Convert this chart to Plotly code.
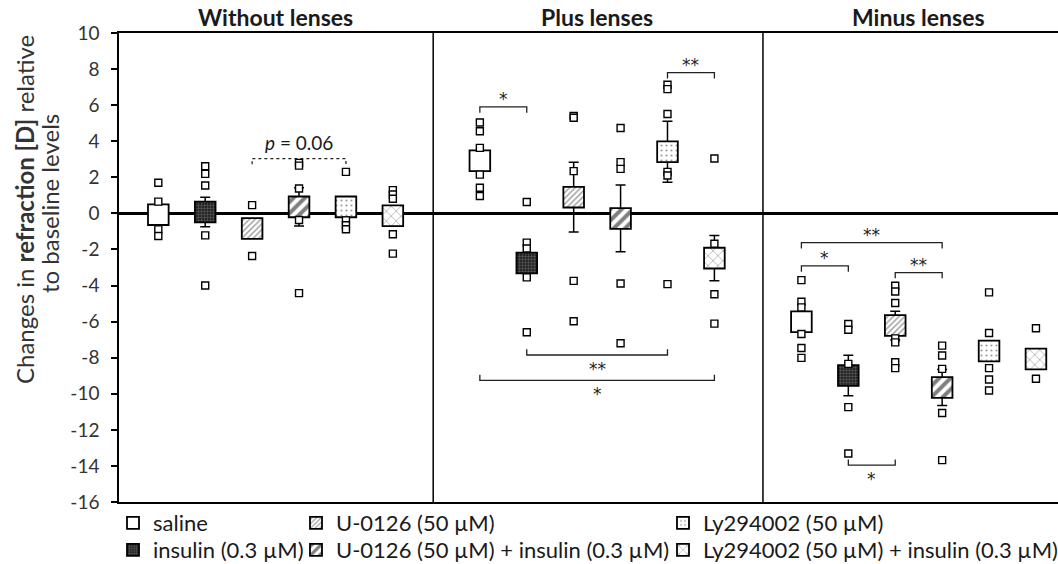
import plotly.graph_objects as go

# ---------------- data ----------------
panels = ["Without lenses", "Plus lenses", "Minus lenses"]
treatments = [
    "saline",
    "insulin (0.3 µM)",
    "U-0126 (50 µM)",
    "U-0126 (50 µM) + insulin (0.3 µM)",
    "Ly294002 (50 µM)",
    "Ly294002 (50 µM) + insulin (0.3 µM)",
]

mean_without = [-0.07, 0.08, -0.84, 0.36, 0.36, -0.13]
sem_without = [0.45, 0.82, 0.40, 1.06, 0.40, 0.45]
mean_plus = [2.92, -2.75, 0.90, -0.28, 3.42, -2.48]
sem_plus = [0.50, 0.50, 1.93, 1.85, 1.69, 1.26]
mean_minus = [-6.01, -8.99, -6.22, -9.65, -7.63, -8.07]
sem_minus = [0.50, 1.12, 0.80, 1.00, 0.50, 0.50]

pts_without = [
    [1.70, 0.65, -0.88, -1.25],
    [2.61, 2.19, 1.55, -1.22, -4.00],
    [0.46, -2.36],
    [2.80, 2.65, 1.38, -0.37, -4.42],
    [2.30, -0.39, -0.66, -0.88],
    [1.29, 1.05, 0.81, -1.16, -2.23],
]
pts_plus = [
    [5.04, 4.55, 3.63, 2.15, 1.42, 0.96],
    [0.63, -1.62, -1.95, -3.55, -6.59],
    [5.40, 5.30, 2.34, -3.74, -5.98],
    [4.73, 2.84, 2.47, -3.89, -7.20],
    [7.13, 6.89, 5.51, 2.30, 2.10, -3.92],
    [3.04, -1.68, -4.48, -6.11],
]
pts_minus = [
    [-3.70, -4.90, -5.21, -6.69, -7.46, -8.01],
    [-6.13, -6.45, -8.34, -10.74, -13.31],
    [-4.01, -4.33, -4.97, -6.93, -7.15, -8.25, -8.58],
    [-7.33, -7.88, -8.62, -11.07, -13.68],
    [-4.38, -6.63, -8.58, -9.21, -9.82],
    [-6.37, -9.17],
]

# significance brackets: (panel, from treatment, to treatment, level, tick direction, label, dashed)
brackets = [
    (0, 2, 4, 3.04, -1, "<i>p</i> = 0.06", True),
    (1, 0, 1, 5.90, -1, "*", False),
    (1, 4, 5, 7.80, -1, "**", False),
    (1, 1, 4, -7.85, 1, "**", False),
    (1, 0, 5, -9.26, 1, "*", False),
    (2, 0, 3, -1.62, -1, "**", False),
    (2, 0, 1, -2.91, -1, "*", False),
    (2, 2, 3, -3.28, -1, "**", False),
    (2, 1, 2, -13.96, 1, "*", False),
]

y_ticks = list(range(-16, 11, 2))
y_tick_labels = [str(v) for v in y_ticks]

# ---------------- styling constants ----------------
GROUP_GAP = 6.855
BOX_W = 0.44
BOX_H = 1.15
TICK = 0.32
DIVIDERS = [5.86, 12.89]
FONT = "Lato, 'Open Sans', sans-serif"
STAR_FONT = "DejaVu Sans"
TXT = "#1a1a1a"

means = [mean_without, mean_plus, mean_minus]
sems = [sem_without, sem_plus, sem_minus]
pts = [pts_without, pts_plus, pts_minus]


def xpos(g, i):
    return g * GROUP_GAP + i


styles = [
    dict(color="white"),
    dict(color="#262626", pattern=dict(shape="+", fgcolor="#9a9a9a", size=3, solidity=0.3)),
    dict(color="white", pattern=dict(shape="/", fgcolor="#333333", size=4, solidity=0.35)),
    dict(color="white", pattern=dict(shape="/", fgcolor="#000000", size=8, solidity=0.5)),
    dict(color="white", pattern=dict(shape=".", fgcolor="#333333", size=5, solidity=0.15)),
    dict(color="white", pattern=dict(shape="x", fgcolor="#222222", size=7, solidity=0.16)),
]
legend_ids = ["legend", "legend2", "legend3", "legend4", "legend5", "legend6"]
# legend item start (px) and row centre (px)
legend_cols = [113, 296, 663]
legend_rows = [523, 550]
PLOT_L, PLOT_R, PLOT_T, PLOT_B = 119, 1058, 33, 502

fig = go.Figure()

# error bars (drawn first so the boxes cover them)
ex, eb, es = [], [], []
for g in range(3):
    for i in range(6):
        ex.append(xpos(g, i))
        eb.append(means[g][i])
        es.append(sems[g][i])
fig.add_trace(go.Bar(
    x=ex, y=[0] * len(ex), base=eb, width=BOX_W,
    marker=dict(color="rgba(0,0,0,0)", line=dict(width=0)),
    error_y=dict(type="data", array=es, visible=True, color="black", thickness=1.5, width=5),
    showlegend=False, hoverinfo="skip",
))

# mean boxes
for t in range(6):
    xs = [xpos(g, t) for g in range(3)]
    bases = [means[g][t] - BOX_H / 2 for g in range(3)]
    fig.add_trace(go.Bar(
        x=xs, y=[BOX_H] * 3, base=bases, width=BOX_W,
        marker=dict(**styles[t], line=dict(color="black", width=1.8)),
        name=treatments[t], legend=legend_ids[t],
    ))

# individual points
px_, py_ = [], []
for g in range(3):
    for t in range(6):
        for v in pts[g][t]:
            px_.append(xpos(g, t))
            py_.append(v)
fig.add_trace(go.Scatter(
    x=px_, y=py_, mode="markers",
    marker=dict(symbol="square", size=7, color="white", line=dict(color="black", width=1.4)),
    showlegend=False, hoverinfo="skip",
))

# brackets
for (g, a, b, lvl, d, lab, dashed) in brackets:
    x1, x2 = xpos(g, a), xpos(g, b)
    fig.add_shape(
        type="path",
        path=f"M {x1},{lvl + d * TICK} L {x1},{lvl} L {x2},{lvl} L {x2},{lvl + d * TICK}",
        line=dict(color="#222", width=1.3, dash="dot" if dashed else "solid"),
    )
    if lab.startswith("<i>"):
        fig.add_annotation(
            x=(x1 + x2) / 2, y=lvl, text=lab, showarrow=False,
            yanchor="middle", xanchor="center", yshift=16,
            font=dict(size=19, family=FONT, color=TXT),
        )
    else:
        fig.add_annotation(
            x=(x1 + x2) / 2, y=lvl, text=lab, showarrow=False,
            yanchor="middle", xanchor="center", yshift=8 if d < 0 else -14,
            font=dict(size=17, family=STAR_FONT, color="#222"),
        )

# panel dividers
for xd in DIVIDERS:
    fig.add_shape(type="line", x0=xd, x1=xd, xref="x", y0=0, y1=1, yref="paper",
                  line=dict(color="black", width=1.5))

# panel titles
for g, name in enumerate(panels):
    fig.add_annotation(x=xpos(g, 2.5), y=1, yref="paper", text=f"<b>{name}</b>",
                       showarrow=False, yanchor="middle", yshift=16,
                       font=dict(size=23, family=FONT, color=TXT))

# y-axis title (two lines)
pw = PLOT_R - PLOT_L
ph = PLOT_B - PLOT_T
fig.add_annotation(x=(25 - PLOT_L) / pw, y=(PLOT_B - 210) / ph, xref="paper", yref="paper",
                   text="Changes in <b>refraction [D]</b> relative", textangle=-90,
                   showarrow=False, xanchor="center", yanchor="middle",
                   font=dict(size=24, family=FONT, color="#333"))
fig.add_annotation(x=(49 - PLOT_L) / pw, y=(PLOT_B - 204) / ph, xref="paper", yref="paper",
                   text="to baseline levels", textangle=-90,
                   showarrow=False, xanchor="center", yanchor="middle",
                   font=dict(size=24, family=FONT, color="#333"))

layout_legends = {}
for t in range(6):
    col, row = t // 2, t % 2
    layout_legends[legend_ids[t]] = dict(
        x=(legend_cols[col] - PLOT_L) / pw, y=(PLOT_B - legend_rows[row]) / ph,
        xanchor="left", yanchor="middle", bgcolor="rgba(0,0,0,0)", borderwidth=0,
        font=dict(size=22, family=FONT, color=TXT), orientation="v",
    )

fig.update_layout(
    width=1058, height=564,
    margin=dict(l=PLOT_L, r=0, t=PLOT_T, b=564 - PLOT_B, autoexpand=False),
    plot_bgcolor="white", paper_bgcolor="white", barmode="overlay",
    font=dict(family=FONT, color=TXT),
    xaxis=dict(range=[-0.838, 19.18], showline=True, linecolor="black", linewidth=1.5,
               mirror=True, ticks="", showticklabels=False, showgrid=False, zeroline=False),
    yaxis=dict(range=[-16, 10], tickvals=y_ticks, ticktext=y_tick_labels, ticks="outside",
               ticklen=6, tickwidth=1.5,
               tickcolor="black", showline=True, linecolor="black", linewidth=1.5,
               showgrid=False, zeroline=True, zerolinecolor="black", zerolinewidth=2.5,
               tickfont=dict(size=19, family=FONT, color="#333"), ticklabelstandoff=8),
    **layout_legends,
)

fig.write_html(
    "out.html",
    config={"displayModeBar": False},
    post_script="document.body.style.margin='0';document.body.style.overflow='hidden';",
)
